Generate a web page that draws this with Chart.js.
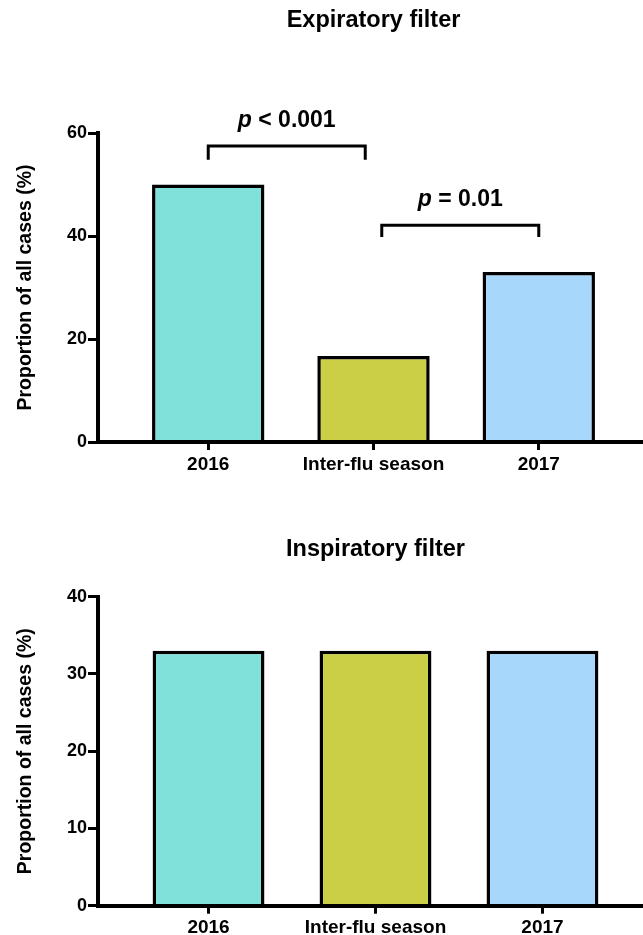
<!DOCTYPE html>
<html><head><meta charset="utf-8">
<script src="https://cdn.jsdelivr.net/npm/chart.js@4/dist/chart.umd.min.js"></script>
<style>
html,body{margin:0;padding:0;background:#fff;width:643px;height:935px;overflow:hidden;position:relative;}
#top{position:absolute;left:0;top:0;width:660px;height:480px;}
#bot{position:absolute;left:0;top:480px;width:665px;height:455px;}
</style></head><body>
<div id="top"><canvas id="c1"></canvas></div>
<div id="bot"><canvas id="c2"></canvas></div>
<script>
// ---- data ----
const categories = ['2016', 'Inter-flu season', '2017'];
const expiratoryValues = [50, 16.7, 33];
const inspiratoryValues = [33, 33, 33];
const barColors = ['#80E0DA', '#CBCF45', '#A7D8FC'];
const expiratoryTicks = [0, 20, 40, 60];
const inspiratoryTicks = [0, 10, 20, 30, 40];
const sigLabels = ['< 0.001', '= 0.01'];
const sigFrom = [0, 1.05];
const sigTo = [0.95, 2];
const sigLineY = [57.5, 42.1];
const sigLegY = [54.8, 39.8];
const sigTextY = [62.3, 47];

const FONT = '"Liberation Sans", Arial, Helvetica, sans-serif';

const sigPlugin = {
  id: 'sig',
  afterDraw(chart) {
    const {ctx} = chart; const x = chart.scales.x, y = chart.scales.y;
    ctx.save();
    ctx.strokeStyle = '#000'; ctx.lineWidth = 3; ctx.lineCap = 'butt'; ctx.lineJoin = 'miter';
    const italic = 'italic bold 23px ' + FONT, bold = 'bold 23px ' + FONT;
    for (let i = 0; i < sigLabels.length; i++) {
      const x1 = x.getPixelForValue(sigFrom[i]), x2 = x.getPixelForValue(sigTo[i]);
      const yl = y.getPixelForValue(sigLineY[i]), yb = y.getPixelForValue(sigLegY[i]);
      ctx.beginPath(); ctx.moveTo(x1, yb); ctx.lineTo(x1, yl); ctx.lineTo(x2, yl); ctx.lineTo(x2, yb); ctx.stroke();
      ctx.font = italic; const w1 = ctx.measureText('p').width;
      ctx.font = bold; const rest = ' ' + sigLabels[i]; const w2 = ctx.measureText(rest).width;
      const cx = (x1 + x2) / 2, ty = y.getPixelForValue(sigTextY[i]);
      const sx = cx - (w1 + w2) / 2;
      ctx.fillStyle = '#000'; ctx.textBaseline = 'middle'; ctx.textAlign = 'left';
      ctx.font = italic; ctx.fillText('p', sx, ty);
      ctx.font = bold; ctx.fillText(rest, sx + w1, ty);
    }
    ctx.restore();
  }
};

function makePanel(id, cfg) {
  return new Chart(document.getElementById(id), {
    type: 'bar',
    data: {
      datasets: [{
        data: cfg.values.map((v, i) => ({x: i, y: v})),
        backgroundColor: barColors,
        borderColor: '#000',
        borderWidth: 3.5,
        barPercentage: cfg.barPct,
        categoryPercentage: 1
      }]
    },
    options: {
      responsive: true, maintainAspectRatio: false, animation: false,
      layout: {padding: {left: 0, right: cfg.padRight, top: 0, bottom: 0}},
      plugins: {
        legend: {display: false}, tooltip: {enabled: false},
        title: {display: true, text: cfg.title, fullSize: false, align: 'center', color: '#000',
          font: {family: FONT, size: 23.5, weight: 'bold'}, padding: cfg.titlePad}
      },
      scales: {
        x: {
          type: 'linear', min: cfg.xMin, max: cfg.xMax, offset: false,
          afterBuildTicks: ax => { ax.ticks = categories.map((_, i) => ({value: i})); },
          afterFit: s => { s.height = cfg.xHeight; },
          ticks: {callback: v => categories[v], color: '#000', maxRotation: 0, autoSkip: false, padding: 3,
            font: {family: FONT, size: 19, weight: 'bold'}},
          grid: {offset: false, drawOnChartArea: false, drawTicks: true, tickLength: 8, tickWidth: 3, tickColor: '#000', color: '#000'},
          border: {display: true, color: '#000', width: 4, z: 1}
        },
        y: {
          min: 0, max: cfg.yTicks[cfg.yTicks.length - 1],
          afterBuildTicks: ax => { ax.ticks = cfg.yTicks.map(v => ({value: v})); },
          afterFit: s => { s.width = 98; },
          ticks: {color: '#000', padding: 1, font: {family: FONT, size: 18, weight: 'bold'}},
          grid: {drawOnChartArea: false, drawTicks: true, tickLength: 10, tickWidth: 3, tickColor: '#000', color: '#000'},
          border: {display: true, color: '#000', width: 4, z: 1},
          title: {display: true, text: 'Proportion of all cases (%)', color: '#000', padding: {top: 13.5, bottom: 0},
            font: {family: FONT, size: 19.5, weight: 'bold'}}
        }
      }
    },
    plugins: cfg.plugins || []
  });
}

makePanel('c1', {
  title: 'Expiratory filter', values: expiratoryValues, yTicks: expiratoryTicks,
  xMin: -0.667, xMax: 2.667, barPct: 0.68, padRight: 11, xHeight: 38,
  titlePad: {top: 6.3, bottom: 98.5}, plugins: [sigPlugin]
});
makePanel('c2', {
  title: 'Inspiratory filter', values: inspiratoryValues, yTicks: inspiratoryTicks,
  xMin: -0.662, xMax: 2.662, barPct: 0.67, padRight: 12, xHeight: 29.3,
  titlePad: {top: 55.9, bottom: 32.6}
});
</script>
</body></html>
